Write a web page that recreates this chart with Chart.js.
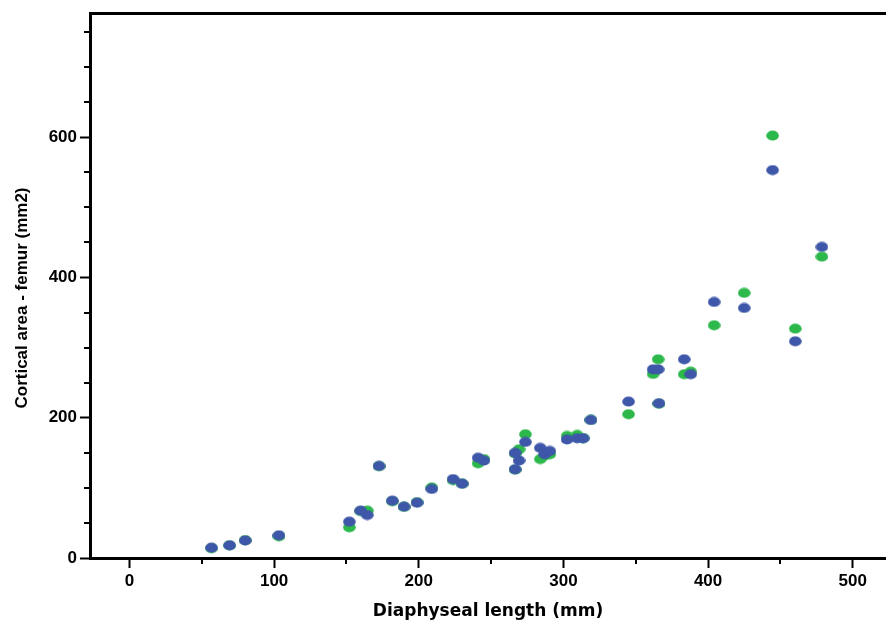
<!DOCTYPE html>
<html>
<head>
<meta charset="utf-8">
<script src="https://cdn.jsdelivr.net/npm/chart.js@4.4.1/dist/chart.umd.min.js"></script>
<style>
  html, body { margin: 0; padding: 0; background: #fff; }
  .chart-container { width: 886px; height: 622px; position: relative; }
</style>
</head>
<body>
<div class="chart-container"><canvas id="myChart"></canvas></div>
<script>
// diaphyseal length (mm) of each specimen
const lengths = [56.7, 69.2, 80, 103.3, 152, 159.8, 164.4, 172.5, 181.7, 189.8,
  198.8, 209, 223.7, 230, 241, 245, 266.6, 266.6, 269.3, 273.7,
  284, 287, 290.6, 302.5, 309.5, 313.6, 319, 345, 362, 365.5,
  366, 383.5, 388, 404.2, 425, 444.6, 460.3, 478.7];
// cortical area - femur (mm2), blue series
const blueArea = [14.7, 18, 25, 32.4, 51.8, 67.5, 61.3, 131.2, 81.7, 73.2,
  78.9, 98.4, 112.5, 106, 143, 139, 126.5, 150, 139, 165.4,
  157, 148, 152.6, 169, 170.7, 170.7, 196.8, 223, 269, 269,
  220.6, 283.3, 262, 365, 356.5, 553, 309, 443.5];
// cortical area - femur (mm2), green series
const greenArea = [14, 18, 25.5, 31, 43.8, 67, 67.5, 131, 81, 73,
  79.5, 100.5, 111, 106, 135, 141, 126, 149, 155, 176.4,
  141, 146, 148, 174, 175.4, 171, 197, 205, 262.4, 283.3,
  220, 262, 265.7, 331.8, 377.9, 602.2, 327, 429.6];

const xTicks = [0, 100, 200, 300, 400, 500];
const yTicks = [0, 200, 400, 600];
const xMinorTicks = [50, 150, 250, 350, 450];
const yMinorTicks = [50, 100, 150, 250, 300, 350, 450, 500, 550, 650, 700, 750];

const xMin = -27.3, xMax = 523;
const yMin = 0, yMax = 777;

const yTitle = 'Cortical area - femur (mm2)';

const tickFont = { family: 'Liberation Sans', size: 17, weight: 'bold' };

const ellipseDot = (color) => {
    const c = document.createElement('canvas');
    c.width = 13;
    c.height = 11;
    const g = c.getContext('2d');
    g.fillStyle = color;
    g.beginPath();
    g.ellipse(6.5, 5.5, 6.3, 5.1, 0, 0, Math.PI * 2);
    g.fill();
    return c;
};

const fixSize = (w, h) => (s) => {
    if (w !== null) s.width = w;
    if (h !== null) s.height = h;
    s.paddingLeft = 0;
    s.paddingRight = 0;
    s.paddingTop = 0;
    s.paddingBottom = 0;
};

// short minor ticks between the labelled ones, plus the rotated y title
const extras = {
    id: 'extras',
    afterDraw(chart) {
        const ctx = chart.ctx;
        const xs = chart.scales.x;
        const ys = chart.scales.y;
        const area = chart.chartArea;
        ctx.save();
        ctx.strokeStyle = '#000';
        ctx.lineWidth = 2;
        ctx.beginPath();
        xMinorTicks.forEach((v) => {
            const px = Math.round(xs.getPixelForValue(v));
            ctx.moveTo(px, area.bottom);
            ctx.lineTo(px, area.bottom + 6);
        });
        yMinorTicks.forEach((v) => {
            const py = Math.round(ys.getPixelForValue(v));
            ctx.moveTo(area.left, py);
            ctx.lineTo(area.left - 6, py);
        });
        ctx.stroke();

        ctx.translate(22, 298);
        ctx.rotate(-Math.PI / 2);
        ctx.fillStyle = '#000';
        ctx.font = 'bold 17px "Liberation Sans"';
        ctx.textAlign = 'center';
        ctx.textBaseline = 'middle';
        ctx.fillText(yTitle, 0, 0);
        ctx.restore();
    }
};

const axisGrid = {
    display: true,
    drawOnChartArea: false,
    drawTicks: true,
    tickLength: 10,
    tickWidth: 2,
    tickColor: '#000',
};

new Chart(document.getElementById('myChart').getContext('2d'), {
    type: 'scatter',
    data: {
        datasets: [{
            label: 'blue',
            data: lengths.map((x, i) => ({ x: x, y: blueArea[i] })),
            pointStyle: ellipseDot('#3F57A9'),
            backgroundColor: '#3F57A9',
        }, {
            label: 'green',
            data: lengths.map((x, i) => ({ x: x, y: greenArea[i] })),
            pointStyle: ellipseDot('#2CB84B'),
            backgroundColor: '#2CB84B',
        }]
    },
    options: {
        responsive: true,
        maintainAspectRatio: false,
        animation: false,
        layout: { padding: 0, autoPadding: false },
        plugins: {
            legend: { display: false },
            tooltip: { enabled: false },
        },
        scales: {
            x: {
                type: 'linear',
                position: 'bottom',
                min: xMin,
                max: xMax,
                afterFit: fixSize(null, 64),
                afterBuildTicks: (s) => { s.ticks = xTicks.map((v) => ({ value: v })); },
                border: { display: true, color: '#000', width: 3 },
                grid: axisGrid,
                ticks: {
                    color: '#000',
                    font: tickFont,
                    padding: 3,
                    maxRotation: 0,
                    autoSkip: false,
                },
                title: {
                    display: true,
                    text: 'Diaphyseal length (mm)',
                    color: '#000',
                    font: { family: 'DejaVu Sans', size: 17, weight: 'bold' },
                    padding: { top: 2, bottom: 0 },
                },
            },
            x2: {
                type: 'linear',
                position: 'top',
                min: xMin,
                max: xMax,
                afterFit: fixSize(null, 13),
                border: { display: true, color: '#000', width: 3 },
                grid: { display: true, drawOnChartArea: false, drawTicks: false },
                ticks: { display: false },
            },
            y: {
                type: 'linear',
                position: 'left',
                min: yMin,
                max: yMax,
                afterFit: fixSize(90, null),
                afterBuildTicks: (s) => { s.ticks = yTicks.map((v) => ({ value: v })); },
                border: { display: true, color: '#000', width: 3 },
                grid: axisGrid,
                ticks: {
                    color: '#000',
                    font: tickFont,
                    padding: 3,
                    autoSkip: false,
                },
            },
        },
    },
    plugins: [extras],
});
</script>
</body>
</html>
